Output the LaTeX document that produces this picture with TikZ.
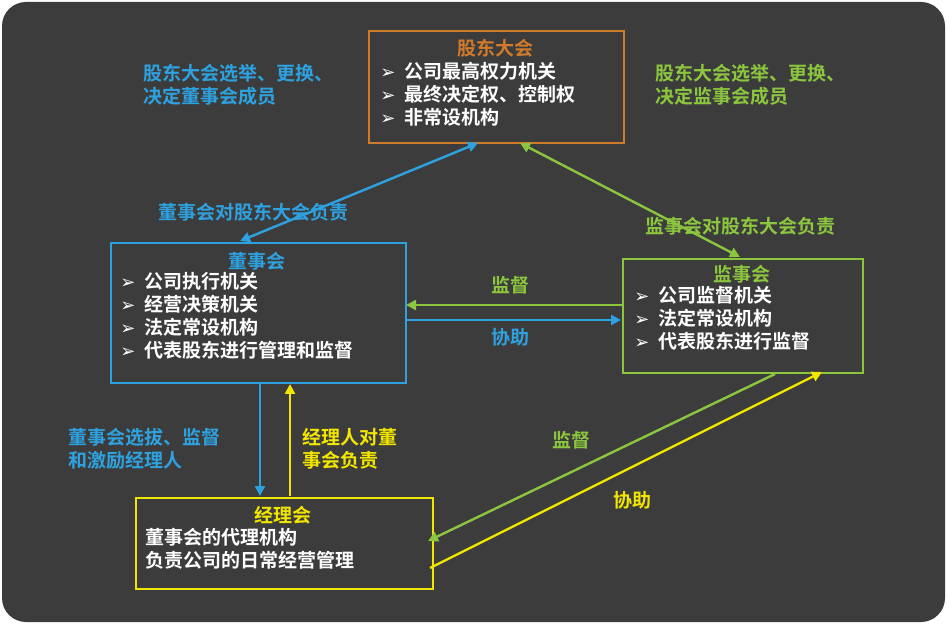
\documentclass[tikz,border=0pt]{standalone}
\usepackage{fontspec}
\setmainfont{Noto Sans CJK SC}[BoldFont={Noto Sans CJK SC Bold}]
\newfontfamily\dvs{DejaVu Sans}
\newcommand{\bul}{{\dvs\fontsize{9}{11}\selectfont ➢}\enspace}
\usetikzlibrary{arrows.meta}
\definecolor{bg}{HTML}{3C3C3C}
\definecolor{orng}{HTML}{D07A2C}
\definecolor{blu}{HTML}{2EA2E0}
\definecolor{grn}{HTML}{8CC63F}
\definecolor{ylw}{HTML}{F2E600}
\begin{document}
\begin{tikzpicture}[x=0.5pt,y=-0.5pt,
  box/.style={draw,line width=1.2pt,inner sep=0pt},
  txt/.style={font=\bfseries\fontsize{9.5}{11.5}\selectfont,align=left,anchor=north west,inner sep=0pt},
  ttl/.style={font=\bfseries\fontsize{9.5}{11.5}\selectfont,inner sep=0pt},
  arr/.style={line width=1.2pt,-{Triangle[length=5pt,width=5pt]}},
  darr/.style={line width=1.2pt,{Triangle[length=5pt,width=5pt]}-{Triangle[length=5pt,width=5pt]}}]
\useasboundingbox (0,0) rectangle (947,625);
\fill[white] (0,0) rectangle (947,625);
\fill[bg,rounded corners=12pt] (2,2) rectangle (945,622);
% boxes
\node[box,draw=orng,minimum width=127.5pt,minimum height=56pt,anchor=north west] (gd) at (368,30) {};
\node[ttl,text=orng] at (495,48) {股东大会};
\node[txt,text=white] at (380,62) {\bul 公司最高权力机关\\\bul 最终决定权、控制权\\\bul 非常设机构};
\node[box,draw=blu,minimum width=147.5pt,minimum height=70pt,anchor=north west] (ds) at (110,242) {};
\node[ttl,text=blu] at (257,261) {董事会};
\node[txt,text=white] at (120,272) {\bul 公司执行机关\\\bul 经营决策机关\\\bul 法定常设机构\\\bul 代表股东进行管理和监督};
\node[box,draw=grn,minimum width=120pt,minimum height=57pt,anchor=north west] (js) at (622,258) {};
\node[ttl,text=grn] at (742,274) {监事会};
\node[txt,text=white] at (634,286) {\bul 公司监督机关\\\bul 法定常设机构\\\bul 代表股东进行监督};
\node[box,draw=ylw,minimum width=148.5pt,minimum height=45.5pt,anchor=north west] (jl) at (135,497) {};
\node[ttl,text=ylw] at (283,515) {经理会};
\node[txt,text=white] at (145,528) {董事会的代理机构\\负责公司的日常经营管理};
% coordinates
\coordinate (a1) at (240,241); \coordinate (a2) at (478,143);
\coordinate (b1) at (520,143); \coordinate (b2) at (740,257);
\coordinate (c1) at (622,305); \coordinate (c2) at (406,305);
\coordinate (d1) at (406,320); \coordinate (d2) at (621,320);
\coordinate (e1) at (260,383); \coordinate (e2) at (260,496);
\coordinate (f1) at (290,496); \coordinate (f2) at (290,384);
\coordinate (g1) at (775,374); \coordinate (g2) at (428,541);
\coordinate (h1) at (430,568); \coordinate (h2) at (822,372);
\draw[darr,blu] (a1) -- (a2);
\draw[darr,grn] (b1) -- (b2);
\draw[arr,grn] (c1) -- (c2);
\draw[arr,blu] (d1) -- (d2);
\draw[arr,blu] (e1) -- (e2);
\draw[arr,ylw] (f1) -- (f2);
\draw[arr,grn] (g1) -- (g2);
\draw[arr,ylw] (h1) -- (h2);
% labels
\node[txt,text=blu] (l1) at (143,64) {股东大会选举、更换、\\决定董事会成员};
\node[txt,text=grn] (l2) at (655,64) {股东大会选举、更换、\\决定监事会成员};
\node[ttl,text=blu] (l3) at (253,212) {董事会对股东大会负责};
\node[ttl,text=grn] (l4) at (740,226) {监事会对股东大会负责};
\node[ttl,text=grn] (l5) at (510,285) {监督};
\node[ttl,text=blu] (l6) at (510,337) {协助};
\node[txt,text=blu] (l7) at (68,428) {董事会选拔、监督\\和激励经理人};
\node[txt,text=ylw] (l8) at (302,428) {经理人对董\\事会负责};
\node[ttl,text=grn] (l9) at (571,440) {监督};
\node[ttl,text=ylw] (l10) at (632,500) {协助};
\end{tikzpicture}
\end{document}
